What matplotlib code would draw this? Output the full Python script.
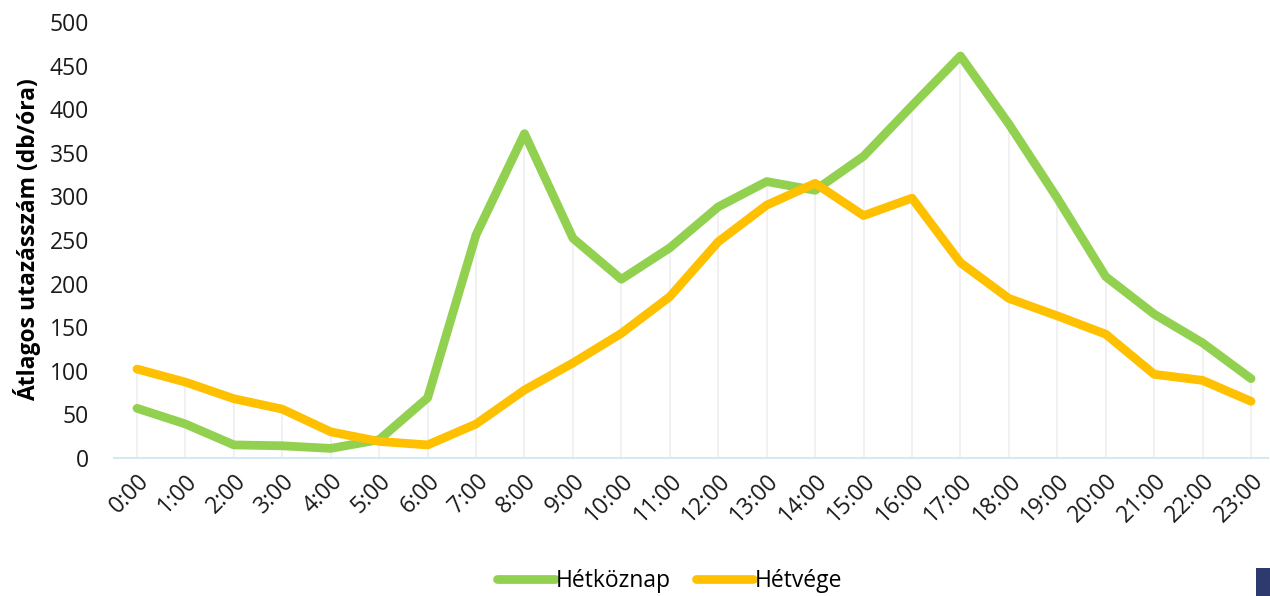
import matplotlib
matplotlib.use("Agg")
import matplotlib.pyplot as plt
from matplotlib.patches import Rectangle

hours = [f"{h}:00" for h in range(24)]
weekday = [57, 39, 15, 14, 11, 21, 69, 256, 372, 252, 205, 241, 288, 317, 307, 346, 404, 461, 383, 298, 208, 165, 132, 91]
weekend = [102, 87, 68, 56, 30, 19, 15, 39, 78, 109, 143, 185, 248, 290, 315, 278, 298, 224, 183, 163, 142, 96, 89, 65]
series_names = ["Hétköznap", "Hétvége"]
ylabel = "Átlagos utazásszám (db/óra)"

plt.rcParams['font.family'] = ['Open Sans', 'DejaVu Sans']

fig = plt.figure(figsize=(12.7, 5.96), dpi=100)
ax = fig.add_axes([114/1270, (596-458)/596, 1154/1270, (458-22)/596])

x = list(range(len(hours)))
tops = [max(a, b) for a, b in zip(weekday, weekend)]
ax.vlines(x, 0, tops, color="#f0f0f0", lw=1.3, zorder=1)

green = "#92d050"
yellow = "#ffc000"
ax.plot(x, weekday, color=green, lw=6.3, solid_joinstyle="round", solid_capstyle="round",
        label=series_names[0], zorder=3, clip_on=False)
ax.plot(x, weekend, color=yellow, lw=6.3, solid_joinstyle="round", solid_capstyle="round",
        label=series_names[1], zorder=3, clip_on=False)

ax.set_xlim(-0.475, 23.35)
ax.set_ylim(0, 500)
ax.set_yticks(range(0, 501, 50))
ax.set_xticks(x)
ax.set_xticklabels(hours, rotation=45, ha="right", rotation_mode="anchor", fontsize=16.5, color="#1a1a1a")
ax.tick_params(axis="y", labelsize=16.5, labelcolor="#1a1a1a", length=0, pad=18)
ax.tick_params(axis="x", length=0, pad=8)
for s in ["top", "right", "left"]:
    ax.spines[s].set_visible(False)
ax.spines["bottom"].set_color("#d5e8f3")
ax.spines["bottom"].set_linewidth(1.5)
ax.set_ylabel(ylabel, fontsize=16.5, fontweight="bold", labelpad=6)

leg = fig.legend(loc="center", bbox_to_anchor=(669.5/1270, 1 - 581/596), ncol=2, frameon=False,
                 fontsize=16.5, handlelength=2.5, handletextpad=0.05, columnspacing=1.1)
for l in leg.get_lines():
    l.set_linewidth(6.3)
    l.set_solid_capstyle("round")

fig.patches.append(Rectangle((1256/1270, 0), 14/1270, 28/596, transform=fig.transFigure,
                             facecolor="#2e3a6e", edgecolor="none"))

fig.savefig("out.png", dpi=100)
